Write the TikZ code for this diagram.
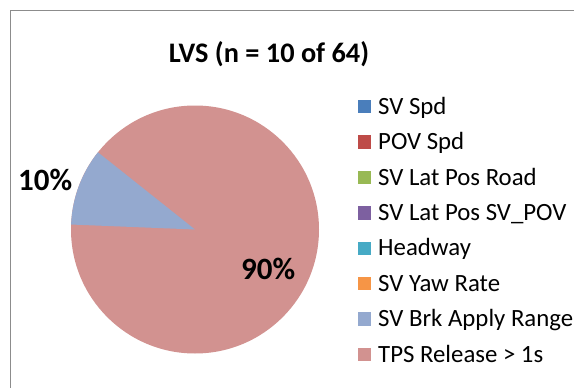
\documentclass[tikz,border=0pt]{standalone}
\usepackage{fontspec}
\setmainfont{Carlito}
\definecolor{framegray}{HTML}{8C8C8C}
\definecolor{cA}{HTML}{4A7EBB}
\definecolor{cB}{HTML}{BE4B48}
\definecolor{cC}{HTML}{98B954}
\definecolor{cD}{HTML}{7D60A0}
\definecolor{cE}{HTML}{46AAC5}
\definecolor{cF}{HTML}{F69546}
\definecolor{cG}{HTML}{94A9CF}
\definecolor{cH}{HTML}{D29290}
\begin{document}
\begin{tikzpicture}[x=1pt,y=-1pt,
  legtext/.style={anchor=base west, inner sep=0pt, font=\fontsize{24.8}{28}\selectfont},
  legsq/.style={minimum size=13.3pt, inner sep=0pt, draw=none},
  pct/.style={font=\bfseries\fontsize{31}{34}\selectfont, inner sep=0pt, anchor=base west}]
\useasboundingbox (0,0) rectangle (574,388);
\fill[white] (0,0) rectangle (574,388);
\draw[framegray, line width=1.5pt] (10.5,388) -- (10.5,10.5) -- (574,10.5);
\node[font=\bfseries\fontsize{28.3}{31}\selectfont, anchor=base, inner sep=0pt] (title) at (269,62) {LVS (n = 10 of 64)};
% pie
\coordinate (pc) at (195,229.5);
\fill[cH] (pc) circle[radius=124];
\fill[cG] (pc) -- ++(-141.5:124) arc[start angle=-141.5, end angle=-177.7, radius=124] -- cycle;
\node[pct] (p10) at (18,190) {10\%};
\node[pct] (p90) at (241,279) {90\%};
% legend
\foreach \i/\c/\t in {0/cA/SV Spd, 1/cB/POV Spd, 2/cC/SV Lat Pos Road, 3/cD/SV Lat Pos SV\_POV, 4/cE/Headway, 5/cF/SV Yaw Rate, 6/cG/SV Brk Apply Range, 7/cH/TPS Release > 1s}{
  \node[legsq, fill=\c] (sq\i) at (364.5,{106.7+35.4*\i}) {};
  \node[legtext] (lt\i) at (378,{114.2+35.4*\i}) {\t};
}
\end{tikzpicture}
\end{document}
